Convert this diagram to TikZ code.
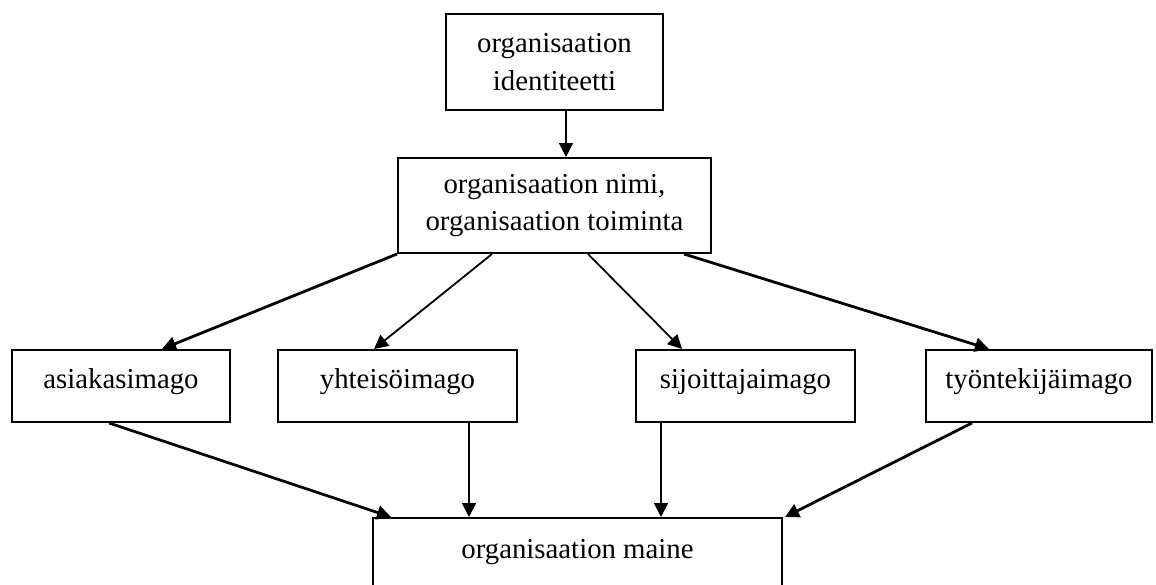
\documentclass[tikz,border=0pt]{standalone}
\usepackage{fontspec}
\setmainfont{Liberation Serif}
\usetikzlibrary{arrows.meta}

\begin{document}
\begin{tikzpicture}[x=0.5pt,y=-0.5pt,>={Triangle[length=7pt,width=7pt]},
		line join=miter, line width=1pt]
	\tikzset{box/.style={draw,rectangle,inner sep=0pt,align=center,
			font=\fontsize{14.4}{18.8}\selectfont},
		imago/.style={box,minimum height=36pt,text height=10pt,text depth=8pt},
		link/.style={->,line width=0.9pt},
		heavylink/.style={->,line width=1.4pt}}
	\useasboundingbox (0,0) rectangle (1156,584);
	\clip (0,0) rectangle (1156,584);
	% boxes
	\node[box,minimum width=108.5pt,minimum height=48pt] (ident) at (554.5,62) {organisaation\\identiteetti};
	\node[box,minimum width=156.5pt,minimum height=47.5pt] (nimi) at (554.5,205.5) {organisaation nimi,\\organisaation toiminta};
	\node[imago,minimum width=109pt] (asiakas) at (121,386) {asiakasimago};
	\node[imago,minimum width=119.5pt] (yhteiso) at (397.5,386) {yhteisöimago};
	\node[imago,minimum width=109.5pt] (sijoittaja) at (745.5,386) {sijoittajaimago};
	\node[imago,minimum width=113pt] (tyontekija) at (1039,386) {työntekijäimago};
	\node[box,minimum width=204.5pt,minimum height=42pt,text height=10pt,text depth=12pt] (maine) at (577.5,560) {organisaation maine};
	% arrows
	\draw[link] ([xshift=5.75pt]ident.south) -- ([xshift=5.75pt]nimi.north);
	\draw[heavylink] (nimi.south west) -- ([xshift=75.5pt]asiakas.north west);
	\draw[link] ([xshift=47.5pt]nimi.south west) -- ([xshift=48.5pt]yhteiso.north west);
	\draw[link] ([xshift=95.5pt]nimi.south west) -- ([xshift=23.5pt]sijoittaja.north west);
	\draw[heavylink] ([xshift=143.5pt]nimi.south west) -- ([xshift=32pt]tyontekija.north west);
	\draw[heavylink] ([xshift=49pt]asiakas.south west) -- ([xshift=9.5pt]maine.north west);
	\draw[link] ([xshift=96pt]yhteiso.south west) -- ([xshift=96pt]yhteiso.south west |- maine.north);
	\draw[link] ([xshift=13pt]sijoittaja.south west) -- ([xshift=13pt]sijoittaja.south west |- maine.north);
	\draw[heavylink] ([xshift=23.5pt]tyontekija.south west) -- ([xshift=1pt]maine.north east);
\end{tikzpicture}
\end{document}
